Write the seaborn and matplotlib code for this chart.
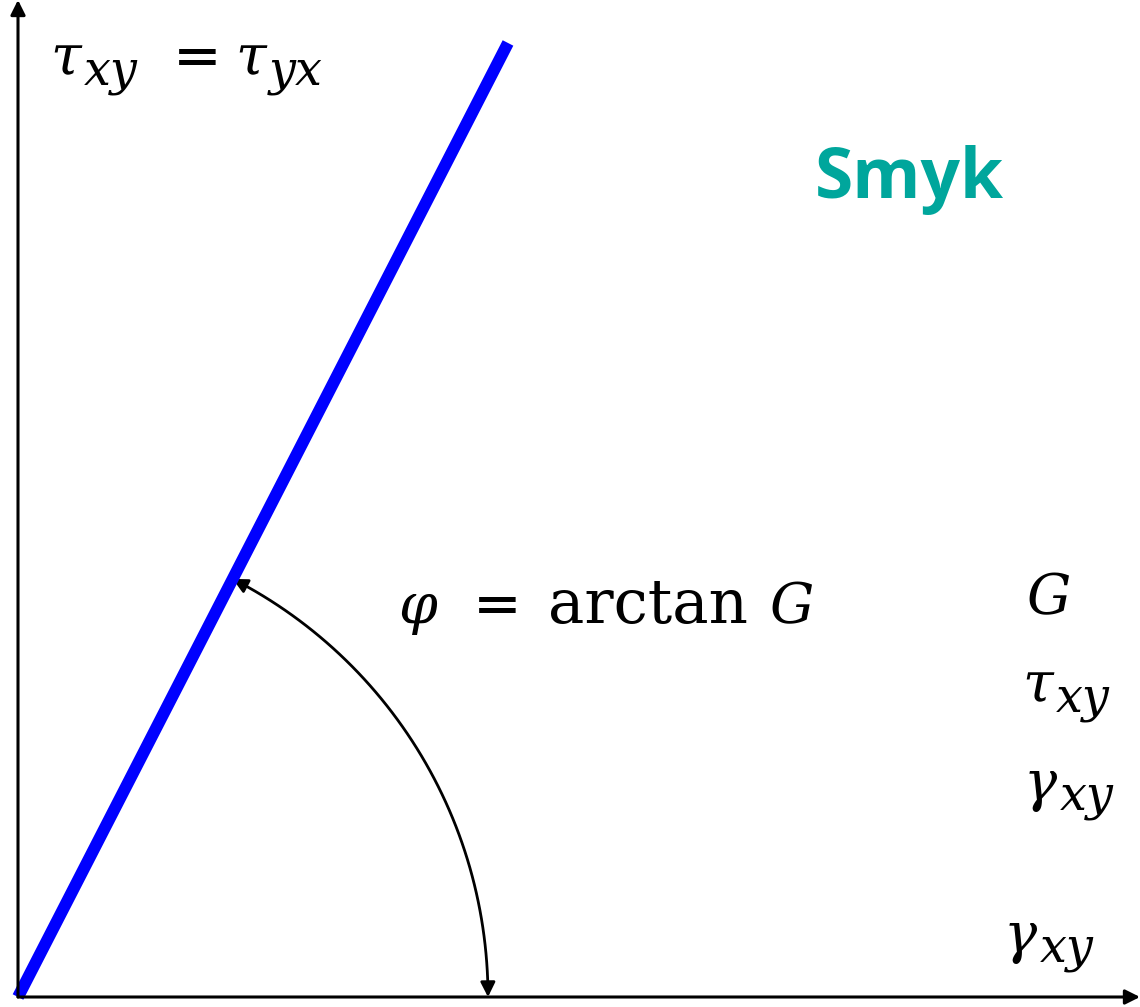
import numpy as np
import pandas as pd
import seaborn as sns
import matplotlib
import matplotlib.pyplot as plt
from matplotlib.patches import FancyArrowPatch
from matplotlib.path import Path

# shear strain / shear stress (arbitrary units), G = shear modulus (slope)
gamma = [0.0, 4.9]
G = 1.947
tau = [G * g for g in gamma]
arc_radius = 4.7

sns.set_style("white")
plt.rcParams['font.family'] = ['DejaVu Serif']
matplotlib.rcParams['text.color'] = 'black'

fig = plt.figure(figsize=(11.4, 10.07), dpi=100, facecolor="w")
ax = fig.add_axes([0, 0, 1, 1])
ax.set_xlim(-0.18, 11.22)
ax.set_ylim(-0.10, 9.97)
ax.axis("off")

# ------ the linear shear law line ------ #
df = pd.DataFrame({"gamma": gamma, "tau": tau})
sns.lineplot(x="gamma", y="tau", data=df, ax=ax, color="#0000FF",
             linewidth=8.6, solid_capstyle="butt", zorder=3)

# ------ axes with arrowheads ------ #
ax.annotate("", xy=(11.22, 0), xytext=(0, 0),
            arrowprops=dict(arrowstyle="-|>", color="black", lw=2.2,
                            mutation_scale=22, shrinkA=0, shrinkB=0))
ax.annotate("", xy=(0, 9.97), xytext=(0, 0),
            arrowprops=dict(arrowstyle="-|>", color="black", lw=2.2,
                            mutation_scale=22, shrinkA=0, shrinkB=0))

# ------ angle arc ------ #
phi = np.arctan(G)
t = np.linspace(0, phi, 60)
verts = np.column_stack([arc_radius * np.cos(t), arc_radius * np.sin(t)])
arc = FancyArrowPatch(path=Path(verts), arrowstyle="<|-|>", color="black",
                      lw=2.0, mutation_scale=22, shrinkA=0, shrinkB=0)
ax.add_patch(arc)


def symbol(x, y, main, sub=None, size=40):
    # italic symbol with a large subscript, like the Cambria Math original
    m = ax.text(x, y, main, fontsize=size, style="italic", va="baseline", ha="left")
    if sub:
        ax.annotate(sub, xy=(1, 0), xycoords=m, xytext=(2, 2), textcoords="offset points",
                    fontsize=size * 0.86, style="italic", va="baseline", ha="left")
    return m


# ------ labels ------ #
symbol(0.32, 9.22, "τ", "xy")
ax.text(1.55, 9.22, "=", fontsize=42, va="baseline", ha="left")
symbol(2.17, 9.22, "τ", "yx")

ax.text(8.91, 7.99, "Smyk", fontsize=50, fontweight="bold", color="#00A69C",
        family=["Open Sans", "DejaVu Sans"], va="baseline", ha="center")

symbol(3.80, 3.74, "φ")
ax.text(4.55, 3.74, "=", fontsize=42, va="baseline", ha="left")
ax.text(5.30, 3.74, "arctan", fontsize=44, va="baseline", ha="left")
symbol(7.52, 3.74, "G")

symbol(10.09, 3.83, "G")
symbol(10.04, 2.95, "τ", "xy")
symbol(10.06, 1.97, "γ", "xy")
symbol(9.86, 0.45, "γ", "xy")

plt.savefig("out.png", dpi=100)
